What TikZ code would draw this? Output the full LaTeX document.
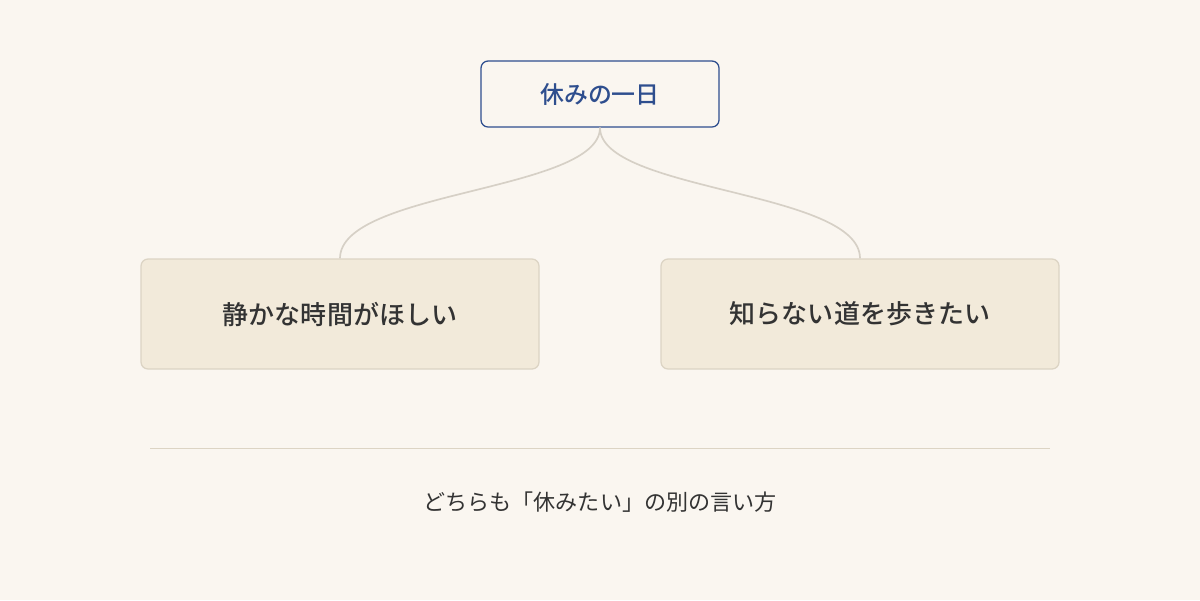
\documentclass[tikz,border=0pt]{standalone}
\usepackage{fontspec}
\newfontfamily\cjk{Noto Sans CJK JP}[BoldFont={Noto Sans CJK JP Medium}]
\usetikzlibrary{calc}
\definecolor{paper}{HTML}{FAF6F0}
\definecolor{inkblue}{HTML}{2E4E8E}
\definecolor{sand}{HTML}{F2EADA}
\definecolor{sandline}{HTML}{DCD4C4}
\definecolor{twig}{HTML}{D6D0C6}
\definecolor{ink}{HTML}{333333}
\tikzset{
	topbox/.style={draw=inkblue, line width=0.9pt, fill=paper, rounded corners=5pt, minimum width=5.95cm, minimum height=1.65cm, text=inkblue, font=\cjk\bfseries\fontsize{17}{20}\selectfont},
	leafbox/.style={draw=sandline, line width=0.9pt, fill=sand, rounded corners=5pt, minimum width=9.95cm, minimum height=2.75cm, text=ink, font=\cjk\bfseries\fontsize{18.5}{22}\selectfont},
	twigline/.style={draw=twig, line width=1.2pt}
}
\begin{document}
\begin{tikzpicture}
		\fill[paper] (0,0) rectangle (30,-15);
		\useasboundingbox (0,0) rectangle (30,-15);
		
		\node (day) at (15,-2.35) [topbox] {休みの一日};
		\node (quiet) at (8.5,-7.85) [leafbox] {静かな時間がほしい};
		\node (walk) at (21.5,-7.85) [leafbox] {知らない道を歩きたい};
		
		\draw[twigline] (day.south) .. controls ($(day.south)+(0,-1.6)$) and ($(quiet.north)+(0,1.7)$) .. (quiet.north);
		\draw[twigline] (day.south) .. controls ($(day.south)+(0,-1.6)$) and ($(walk.north)+(0,1.7)$) .. (walk.north);
		
		\coordinate (ruleL) at (3.75,-11.2);
		\coordinate (ruleR) at (26.25,-11.2);
		\draw[draw=sandline, line width=0.7pt] (ruleL) -- (ruleR);
		
		\node (note) at (15,-12.55) [text=ink, font=\cjk\fontsize{15.7}{18}\selectfont] {どちらも「休みたい」の別の言い方};
	\end{tikzpicture}
\end{document}
